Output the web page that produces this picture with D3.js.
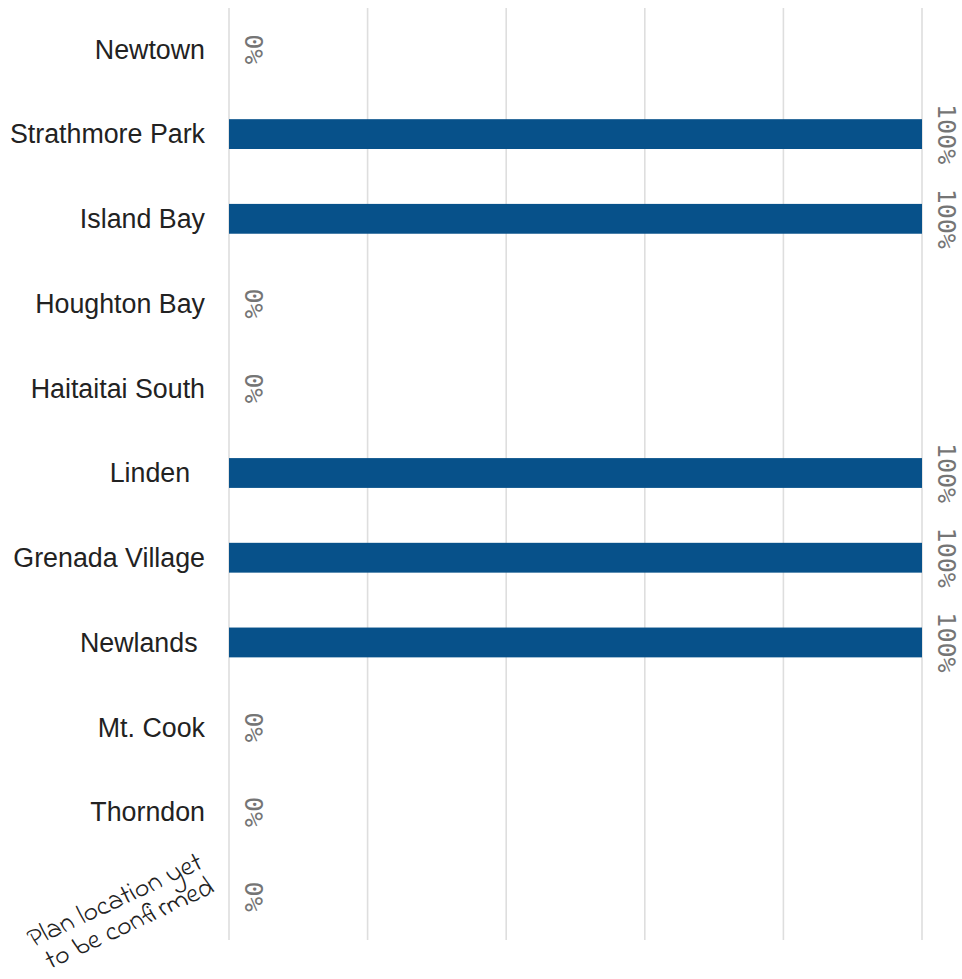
<!DOCTYPE html>
<html>
<head>
<meta charset="utf-8">
<script src="https://cdn.jsdelivr.net/npm/d3@7"></script>
<style>
  html, body { margin: 0; padding: 0; background: #fff; }
  svg { display: block; }
  text { white-space: pre; }
</style>
</head>
<body>
<div id="chart"></div>
<script>
// ---- Data ----
const categories = [
  "Newtown",
  "Strathmore Park",
  "Island Bay",
  "Houghton Bay",
  "Haitaitai South",
  "Linden  ",
  "Grenada Village",
  "Newlands ",
  "Mt. Cook",
  "Thorndon",
  "Plan location yet to be confirmed"
];
const values = [0, 100, 100, 0, 0, 100, 100, 100, 0, 0, 0];
const xTicks = [0, 20, 40, 60, 80, 100];
const noteLines = ["Plan location yet", "to be confirmed"];

const W = 962, H = 979;
const svg = d3.select("#chart").append("svg").attr("width", W).attr("height", H);

const x = d3.scaleLinear().domain([0, 100]).range([229, 922]);
const y = d3.scalePoint().domain(categories).range([7, 939]).padding(0.5);
const barH = y.step() * 0.352;

// gridlines
svg.append("g").selectAll("line").data(xTicks).join("line")
  .attr("x1", d => x(d)).attr("x2", d => x(d))
  .attr("y1", 8).attr("y2", 940)
  .attr("stroke", "#dedede").attr("stroke-width", 1.6);

const data = categories.map((c, i) => ({ c, v: values[i], i }));

// bars
svg.append("g").selectAll("rect").data(data.filter(d => d.v > 0)).join("rect")
  .attr("x", x(0))
  .attr("y", d => y(d.c) - barH / 2)
  .attr("width", d => x(d.v) - x(0))
  .attr("height", barH)
  .attr("fill", "#07518a");

// value labels (rotated)
svg.append("g").selectAll("text").data(data).join("text")
  .attr("transform", d => `translate(${x(d.v) + 16},${y(d.c)}) rotate(90)`)
  .attr("text-anchor", "middle")
  .attr("font-family", "DejaVu Sans Mono, monospace")
  .attr("font-size", 25)
  .attr("fill", "#757575")
  .text(d => d.v + "%");

// category labels
const last = categories[categories.length - 1];
svg.append("g").selectAll("text").data(data.filter(d => d.c !== last)).join("text")
  .attr("x", 205)
  .attr("y", d => y(d.c))
  .attr("dy", "0.35em")
  .attr("text-anchor", "end")
  .attr("font-family", "Liberation Sans, Arial, sans-serif")
  .attr("font-size", 26.8)
  .attr("fill", "#222")
  .text(d => d.c);

// the handwritten, rotated note label
const note = svg.append("text")
  .attr("transform", `translate(204,${y(last) - 29}) rotate(-25)`)
  .attr("text-anchor", "end")
  .attr("font-family", "Indie Flower, Comic Sans MS, Open Sans, sans-serif")
  .attr("font-size", 28)
  .attr("fill", "#222");
note.selectAll("tspan").data(noteLines).join("tspan")
  .attr("x", 0)
  .attr("dy", (d, i) => i === 0 ? 0 : 27)
  .text(d => d);
</script>
</body>
</html>
